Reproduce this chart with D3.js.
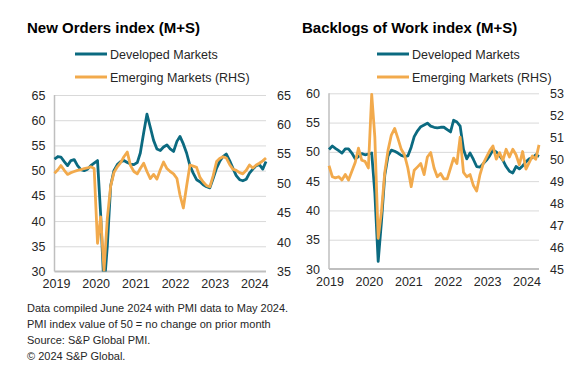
<!DOCTYPE html>
<html>
<head>
<meta charset="utf-8">
<script src="https://cdn.jsdelivr.net/npm/d3@7"></script>
<style>
  html, body { margin: 0; padding: 0; background: #fff; }
  svg { display: block; font-family: Arial, "Liberation Sans", sans-serif; }
</style>
</head>
<body>
<svg id="chart" width="579" height="383"></svg>
<script>
// ---- Data (monthly, Jan 2019 – May 2024) ----
const startMonth = new Date(2019, 0, 1);
const endMonth = new Date(2024, 4, 1);
const months = d3.timeMonth.range(startMonth, new Date(2024, 5, 1));

const yearTicks = [2019, 2020, 2021, 2022, 2023, 2024];

// New Orders index – Developed Markets (LHS)
const newOrdersDM = [
  52.3, 52.8, 52.7, 51.8, 51.0, 52.0, 52.2, 51.0, 50.2, 50.0, 50.3, 51.0,
  51.5, 52.0, 41.3, 26.5, 35.0, 47.0, 50.0, 51.2, 51.8, 52.0, 51.6, 51.3,
  51.2, 51.6, 53.5, 57.5, 61.2, 58.6, 56.0, 54.3, 54.0, 54.7, 55.1, 54.3,
  53.8, 55.8, 56.8, 55.3, 53.5, 51.0, 49.5, 48.2, 47.8, 47.2, 46.8, 46.6,
  48.5, 50.5, 51.8, 52.8, 53.3, 52.0, 50.5, 49.0, 48.2, 48.0, 48.3, 49.5,
  50.3, 51.0, 51.2, 50.3, 51.8
];
// New Orders index – Emerging Markets (RHS)
const newOrdersEM = [
  51.7, 52.3, 53.0, 52.2, 51.5, 51.8, 52.0, 52.2, 52.3, 52.5, 52.6, 52.8,
  52.5, 39.8, 44.3, 35.2, 44.0, 49.5, 51.8, 52.8, 53.5, 54.5, 55.3, 53.0,
  52.0, 51.6, 52.5, 53.4, 52.0, 50.8, 51.5, 50.7, 52.3, 53.6, 52.5, 52.0,
  51.6, 50.8, 48.0, 45.8, 49.5, 53.1, 52.9, 52.7, 51.0, 50.2, 49.6, 49.4,
  51.3, 53.7, 54.2, 54.5, 54.3, 53.2, 52.4, 52.2, 51.8, 51.6, 52.2, 53.1,
  52.6, 53.1, 53.4, 53.8, 54.3
];
// Backlogs of Work index – Developed Markets (LHS)
const backlogsDM = [
  50.4, 51.0, 50.6, 50.2, 49.8, 50.5, 50.5, 49.8, 48.8, 49.2, 49.7, 49.5,
  49.6, 49.8, 43.0, 31.3, 38.0, 46.0, 49.3, 50.3, 50.1, 49.8, 49.4, 49.2,
  49.3, 50.8, 52.6, 53.6, 54.3, 54.6, 54.9, 54.4, 54.2, 54.1, 54.2, 54.2,
  53.8, 53.4, 55.4, 55.1, 54.4, 50.4, 48.8, 49.8, 48.7, 47.5, 47.4, 48.0,
  48.6, 49.4, 50.3, 50.0, 49.4, 48.6, 47.5, 46.7, 46.4, 47.5, 47.1, 47.6,
  48.3, 48.8, 49.0, 49.5, 49.2
];
// Backlogs of Work index – Emerging Markets (RHS)
const backlogsEM = [
  49.7, 49.2, 49.15, 49.2, 49.05, 49.3, 49.05, 49.45, 49.85, 50.5, 49.95, 49.9,
  49.6, 52.95, 51.0, 46.4, 47.6, 49.4, 50.4, 51.1, 51.4, 50.95, 50.45, 50.2,
  49.6, 48.75, 49.5, 49.65, 49.8, 49.3, 50.1, 50.3, 49.6, 49.2, 49.35, 49.1,
  49.1, 49.6, 50.05, 49.8, 51.0, 49.4, 49.2, 49.3, 48.8, 48.55, 49.3, 49.8,
  50.1, 50.4, 50.6, 50.0, 50.3, 49.95, 50.45, 50.1, 50.45, 50.2, 49.75, 50.35,
  49.55, 49.85, 50.15, 50.0, 50.65
];

const seriesNames = ["Developed Markets", "Emerging Markets (RHS)"];
const titles = ["New Orders index (M+S)", "Backlogs of Work index (M+S)"];
const footnotes = [
  "Data compiled June 2024 with PMI data to May 2024.",
  "PMI index value of 50 = no change on prior month",
  "Source: S&P Global PMI.",
  "\u00A9 2024 S&P Global."
];

const leftTicksA = [30, 35, 40, 45, 50, 55, 60, 65];
const rightTicksA = [35, 40, 45, 50, 55, 60, 65];
const leftTicksB = [30, 35, 40, 45, 50, 55, 60];
const rightTicksB = [45, 46, 47, 48, 49, 50, 51, 52, 53];

// ---- Styles ----
const TEAL = "#0b6a80";
const ORANGE = "#f2aa4c";
const GRID = "#d9d9d9";
const AXIS = "#bfbfbf";
const TXT = "#262626";

const svg = d3.select("#chart");

function panel(cfg) {
  const g = svg.append("g");
  const x = d3.scaleTime().domain([startMonth, endMonth]).range([cfg.x0, cfg.x1]);
  const yL = d3.scaleLinear().domain(cfg.lDomain).range([cfg.yBottom, cfg.yTop]);
  const yR = d3.scaleLinear().domain(cfg.rDomain).range([cfg.yBottom, cfg.yTop]);

  // title
  g.append("text").attr("x", cfg.titleX).attr("y", 33)
    .attr("font-size", 15).attr("font-weight", "bold").attr("fill", "#000")
    .text(cfg.title);

  // legend
  const leg = [[TEAL, seriesNames[0], 54], [ORANGE, seriesNames[1], 77]];
  leg.forEach(([c, t, yy]) => {
    g.append("line").attr("x1", cfg.legX).attr("x2", cfg.legX + 32)
      .attr("y1", yy).attr("y2", yy).attr("stroke", c).attr("stroke-width", 3);
    g.append("text").attr("x", cfg.legX + 35).attr("y", yy + 4.5)
      .attr("font-size", 12.5).attr("fill", TXT).text(t);
  });

  // gridlines
  const grid = g.append("g").attr("transform", `translate(${cfg.x0},0)`)
    .call(d3.axisLeft(yL).tickValues(cfg.lTicks.filter(v => v !== cfg.lDomain[0]))
      .tickSize(-(cfg.x1 - cfg.x0)).tickFormat(""));
  grid.select(".domain").remove();
  grid.selectAll("line").attr("stroke", GRID).attr("stroke-width", 1);

  // left axis labels
  const la = g.append("g").attr("transform", `translate(${cfg.x0 - 9},0)`)
    .call(d3.axisLeft(yL).tickValues(cfg.lTicks).tickSize(0).tickPadding(0).tickFormat(d3.format("d")));
  la.select(".domain").remove();
  la.selectAll("text").attr("font-size", 12.5).attr("fill", TXT)
    .attr("font-family", "Arial, 'Liberation Sans', sans-serif");

  // right axis labels
  const ra = g.append("g").attr("transform", `translate(${cfg.rLabelX},0)`)
    .call(d3.axisRight(yR).tickValues(cfg.rTicks).tickSize(0).tickPadding(0).tickFormat(d3.format("d")));
  ra.select(".domain").remove();
  ra.selectAll("text").attr("font-size", 12.5).attr("fill", TXT)
    .attr("font-family", "Arial, 'Liberation Sans', sans-serif");

  // x axis labels
  const xa = g.append("g").attr("transform", `translate(0,${cfg.yBottom + 8})`)
    .call(d3.axisBottom(x).tickValues(yearTicks.map(yv => new Date(yv, 0, 1)))
      .tickSize(0).tickPadding(0).tickFormat(d3.timeFormat("%Y")));
  xa.select(".domain").remove();
  xa.selectAll("text").attr("font-size", 12.5).attr("fill", TXT).attr("dx", cfg.labelDx)
    .attr("font-family", "Arial, 'Liberation Sans', sans-serif");

  // axis lines
  g.append("line").attr("x1", cfg.x0).attr("x2", cfg.x1).attr("y1", cfg.yBottom).attr("y2", cfg.yBottom)
    .attr("stroke", AXIS).attr("stroke-width", 2);
  g.append("line").attr("x1", cfg.x0).attr("x2", cfg.x0).attr("y1", cfg.yTop).attr("y2", cfg.yBottom)
    .attr("stroke", AXIS).attr("stroke-width", 1.5);

  // clip
  const cid = "clip" + cfg.id;
  svg.append("clipPath").attr("id", cid).append("rect")
    .attr("x", cfg.x0 - 3).attr("y", cfg.yTop - 3)
    .attr("width", cfg.x1 - cfg.x0 + 6).attr("height", cfg.yBottom - cfg.yTop + 3);

  const lineL = d3.line().x((d, i) => x(months[i])).y(d => yL(d));
  const lineR = d3.line().x((d, i) => x(months[i])).y(d => yR(d));
  const lines = g.append("g").attr("clip-path", `url(#${cid})`);
  lines.append("path").datum(cfg.dm).attr("d", lineL).attr("fill", "none")
    .attr("stroke", TEAL).attr("stroke-width", 2.8).attr("stroke-linejoin", "round");
  lines.append("path").datum(cfg.em).attr("d", lineR).attr("fill", "none")
    .attr("stroke", ORANGE).attr("stroke-width", 2.8).attr("stroke-linejoin", "round");
}

panel({
  id: "A", title: titles[0], titleX: 27, legX: 75,
  x0: 54.5, x1: 266, yTop: 95, yBottom: 271.5,
  lDomain: [30, 65], rDomain: [35, 65],
  lTicks: leftTicksA, rTicks: rightTicksA, rLabelX: 277, labelDx: 1.5,
  dm: newOrdersDM, em: newOrdersEM
});

panel({
  id: "B", title: titles[1], titleX: 302, legX: 377,
  x0: 329, x1: 539, yTop: 93.3, yBottom: 269,
  lDomain: [30, 60], rDomain: [45, 53],
  lTicks: leftTicksB, rTicks: rightTicksB, rLabelX: 550, labelDx: 0.5,
  dm: backlogsDM, em: backlogsEM
});

// footnotes
svg.append("g").selectAll("text").data(footnotes).join("text")
  .attr("x", 27).attr("y", (d, i) => 312 + i * 16)
  .attr("font-size", 11).attr("fill", TXT).text(d => d);
</script>
</body>
</html>
